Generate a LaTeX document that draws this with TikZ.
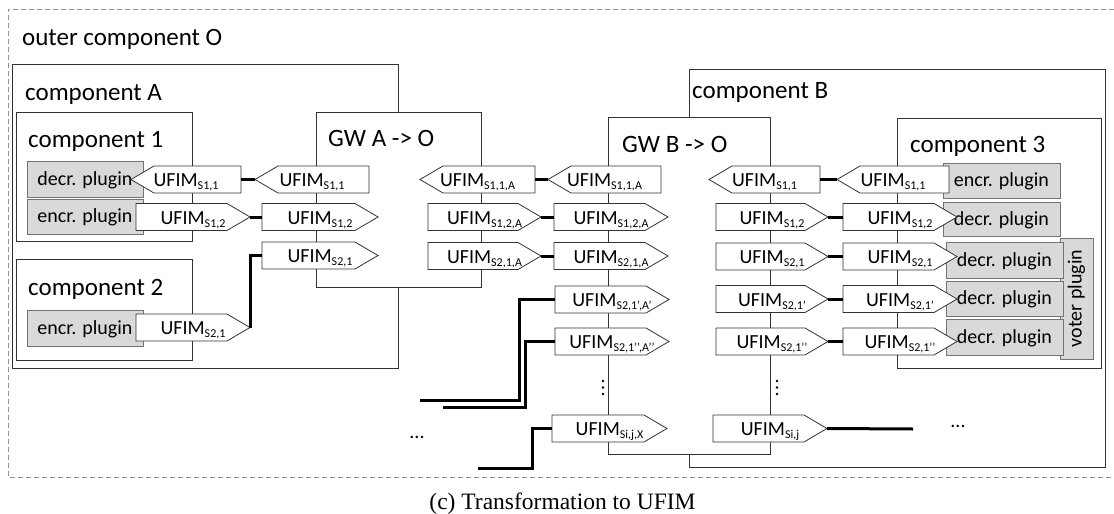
\documentclass[tikz,border=0pt]{standalone}
\usepackage{fontspec}
\setmainfont{Carlito}
\newfontfamily\capfont{Liberation Serif}
\usetikzlibrary{shadows}

% subscript used in the UFIM labels
\newcommand\sbs[1]{\raisebox{-3pt}{\fontsize{12}{12}\selectfont #1}}
\newcommand\U[1]{UFIM\sbs{#1}}

% right-pointing UFIM: name, left x, top y, label, width
\newcommand\ufR[5]{%
  \path[ufimshape] (#2,#3) -- ++({#5-23},0) -- ++(23,13.5) -- ++(-23,13.5)
     -- ++({-#5+23},0) -- cycle;
  \node[ufimtext, minimum width=#5] (#1) at ({#2+#5/2},{#3+13.5}) {#4};}
% left-pointing UFIM: name, tip x, top y, label, width
\newcommand\ufL[5]{%
  \path[ufimshape] (#2,{#3+13.5}) -- ++(23,-13.5) -- ++({#5-23},0) -- ++(0,27)
     -- ++({-#5+23},0) -- cycle;
  \node[ufimtext, minimum width=#5] (#1) at ({#2+#5/2},{#3+13.5}) {#4};}

\tikzset{
  outerbox/.style={draw=gray!85, line width=0.8pt, dash pattern=on 5pt off 3pt},
  compbox/.style={draw=black!80, line width=0.9pt, fill=white},
  lbl/.style={font=\fontsize{25}{30}\selectfont, anchor=base west, inner sep=0pt},
  plug/.style={draw=black!55, line width=0.8pt, fill=gray!30, inner sep=0pt,
    font=\fontsize{20}{24}\selectfont, text height=12pt, text depth=0pt,
    drop shadow={shadow xshift=1.2pt, shadow yshift=-1.2pt, opacity=0.7, fill=black!60}},
  ufimshape/.style={draw=black!80, line width=0.8pt, fill=white, line join=miter},
  ufimtext/.style={inner sep=0pt, minimum height=27pt, font=\fontsize{20}{24}\selectfont,
    text height=14pt, text depth=0pt},
  conn/.style={line width=3pt, black},
  dotmark/.style={circle, fill=black, inner sep=0pt, minimum size=2.6pt},
  txt/.style={font=\fontsize{20}{24}\selectfont, inner sep=0pt},
}

\begin{document}
\begin{tikzpicture}[x=1pt, y=-1pt]
\useasboundingbox (0,0) rectangle (1114,514);

% outer component (dashed, open to the right)
\draw[outerbox] (1114,9) -- (8,9) -- (8,477) -- (1114,477);
\node[lbl] (tO) at (22,45) {outer component O};

% component A with its components and gateway
\draw[compbox] (12,64) rectangle (398,368);
\node[lbl] (tA) at (25,100) {component A};
\draw[compbox] (16,112) rectangle (192,241);
\node[lbl] (t1) at (28,147) {component 1};
\draw[compbox] (16,259) rectangle (192,360);
\node[lbl] (t2) at (28,295) {component 2};
\draw[compbox] (316,112) rectangle (481,287);
\node[lbl] (tGA) at (328,146) {GW A -> O};

% component B with its gateway and component 3
\draw[compbox] (689,69) rectangle (1105,467);
\node[lbl] (tB) at (692,98) {component B};
\draw[compbox] (608,117) rectangle (770,454);
\node[lbl] (tGB) at (622,152) {GW B -> O};
\draw[compbox] (897,118) rectangle (1101,368);
\node[lbl] (t3) at (910,152) {component 3};

% plugins
\node[plug, minimum width=116pt, minimum height=36pt] (p1d) at (85,179) {decr. plugin};
\node[plug, minimum width=116pt, minimum height=35pt] (p1e) at (85,216.5) {encr. plugin};
\node[plug, minimum width=116pt, minimum height=36pt] (p2e) at (85,328) {encr. plugin};
\node[plug, minimum width=117pt, minimum height=35pt] (p3e) at (1001.5,180.5) {encr. plugin};
\node[plug, minimum width=117pt, minimum height=34pt] (p3d) at (1001.5,219) {decr. plugin};
\node[plug, minimum width=33pt, minimum height=121pt] (pv) at (1076.5,298.5) {};
\node[txt, rotate=90] (tv) at (pv.center) {voter plugin};
\node[plug, minimum width=117pt, minimum height=36pt] (p3d1) at (1004.5,260) {decr. plugin};
\node[plug, minimum width=117pt, minimum height=35pt] (p3d2) at (1004.5,298.5) {decr. plugin};
\node[plug, minimum width=117pt, minimum height=36pt] (p3d3) at (1004.5,337) {decr. plugin};

% UFIMs inside components 1 and 2
\ufL{a11}{131}{166}{\U{S1,1}}{110}
\ufR{a12}{136}{203.5}{\U{S1,2}}{114}
\ufR{a21}{136}{314}{\U{S2,1}}{114}

% gateway A, inner side
\ufL{g11}{255}{166}{\U{S1,1}}{114}
\ufR{g12}{262}{203.5}{\U{S1,2}}{116}
\ufR{g21}{262}{242}{\U{S2,1}}{116}

% gateway A, outer side
\ufL{h11}{420}{166}{\U{S1,1,A}}{115}
\ufR{h12}{428}{203.5}{\U{S1,2,A}}{113}
\ufR{h21}{428}{242.5}{\U{S2,1,A}}{113}

% gateway B, outer side
\ufL{k11}{548}{166}{\U{S1,1,A}}{113}
\ufR{k12}{554}{203.5}{\U{S1,2,A}}{114}
\ufR{k21}{554}{242.5}{\U{S2,1,A}}{114}
\ufR{k22}{555}{286}{\U{S2,1’,A’}}{114}
\ufR{k23}{555}{328}{\U{S2,1’’,A’’}}{114}
\ufR{kij}{552}{415}{\U{Si,j,X}}{115}

% gateway B, inner side
\ufL{m11}{709}{166}{\U{S1,1}}{111}
\ufR{m12}{716}{203.5}{\U{S1,2}}{112}
\ufR{m21}{716}{243}{\U{S2,1}}{112}
\ufR{m22}{716}{285.5}{\U{S2,1’}}{112}
\ufR{m23}{716}{328}{\U{S2,1’’}}{112}
\ufR{mij}{713}{415}{\U{Si,j}}{114}

% component 3
\ufL{n11}{837}{166}{\U{S1,1}}{112}
\ufR{n12}{843}{203.5}{\U{S1,2}}{114}
\ufR{n21}{843}{243}{\U{S2,1}}{114}
\ufR{n22}{843}{285.5}{\U{S2,1’}}{114}
\ufR{n23}{843}{328}{\U{S2,1’’}}{114}

% connections
\draw[conn] (a11.east) -- (g11.west);
\draw[conn] (a12.east) -- (g12.west);
\draw[conn] (a21.east) |- (g21.west);
\draw[conn] (h11.east) -- (k11.west);
\draw[conn] (h12.east) -- (k12.west);
\draw[conn] (h21.east) -- (k21.west);
\draw[conn] (m11.east) -- (n11.west);
\draw[conn] (m12.east) -- (n12.west);
\draw[conn] (m21.east) -- (n21.west);
\draw[conn] (m22.east) -- (n22.west);
\draw[conn] (m23.east) -- (n23.west);

\coordinate (e1) at (420,400);
\coordinate (e2) at (443,407);
\coordinate (e3) at (478,468);
\coordinate (e4) at (913,429);
\draw[conn] (k22.west) -- ++(-35,0) |- (e1);
\draw[conn] (k23.west) -- ++(-29,0) |- (e2);
\draw[conn] (kij.west) -- ++(-19,0) |- (e3);
\draw[conn] (mij.east) -- (e4);

% vertical ellipses
\node[dotmark] (d1a) at (603,381) {};
\node[dotmark] (d1b) at (603,387.5) {};
\node[dotmark] (d1c) at (603,394) {};
\node[dotmark] (d2a) at (777,381) {};
\node[dotmark] (d2b) at (777,387.5) {};
\node[dotmark] (d2c) at (777,394) {};

% horizontal ellipses
\node[txt, anchor=base] (h1) at (417,438) {...};
\node[txt, anchor=base] (h2) at (958,427) {...};

% caption
\node[font=\capfont\fontsize{23.5}{28}\selectfont, anchor=base, inner sep=0pt] (cap)
  at (562.5,509) {(c) Transformation to UFIM};
\end{tikzpicture}
\end{document}
